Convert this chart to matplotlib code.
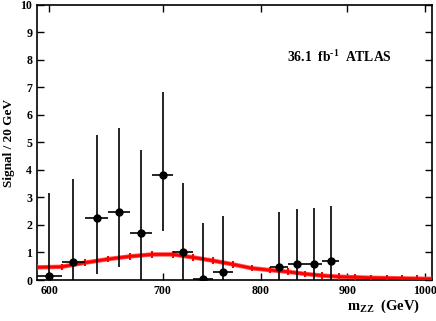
import matplotlib
matplotlib.use('Agg')
import matplotlib.pyplot as plt
import numpy as np

# black points: measured signal per 20 GeV bin
sig_mass = [600, 620, 640, 660, 680, 700, 720, 740, 760, 820, 840, 860, 880]
sig_val = [0.15, 0.65, 2.25, 2.48, 1.72, 3.82, 1.03, 0.02, 0.30, 0.46, 0.57, 0.60, 0.69]
sig_up = [3.17, 3.66, 5.27, 5.53, 4.73, 6.85, 3.54, 2.06, 2.33, 2.48, 2.59, 2.62, 2.69]
sig_lo = [0.0, 0.0, 0.22, 0.46, 0.0, 1.79, 0.0, 0.0, 0.0, 0.0, 0.0, 0.0, 0.0]
bin_half = 10

# red curve: expected signal shape
exp_mass = [590, 610, 630, 650, 670, 690, 710, 730, 750, 770, 790, 810, 830,
            850, 870, 890, 910, 930, 950, 970, 990, 1010]
exp_val = [0.46, 0.48, 0.63, 0.76, 0.86, 0.93, 0.93, 0.82, 0.70, 0.57, 0.43,
           0.36, 0.30, 0.22, 0.16, 0.12, 0.10, 0.08, 0.07, 0.06, 0.05, 0.04]
exp_err = 0.12

xticks = [600, 700, 800, 900, 1000]
yticks = list(range(0, 11))

plt.rcParams['font.family'] = ['Liberation Serif', 'DejaVu Serif']
plt.rcParams['font.weight'] = 'bold'
plt.rcParams['mathtext.fontset'] = 'custom'
plt.rcParams['mathtext.rm'] = 'Liberation Serif:bold'
plt.rcParams['mathtext.it'] = 'Liberation Serif:bold'
plt.rcParams['mathtext.bf'] = 'Liberation Serif:bold'

fig = plt.figure(figsize=(4.36, 3.21), dpi=100)
ax = fig.add_axes([0.0849, 0.1277, 0.906, 0.857])

# expected curve (thick red with small error ticks)
ax.plot(exp_mass, exp_val, color='#ff5555', lw=3.2, solid_capstyle='butt', zorder=2)
ax.errorbar(exp_mass, exp_val, yerr=exp_err, color='red', lw=2.0,
            elinewidth=1.5, capsize=0, zorder=3)

# data points
sig_val = np.array(sig_val)
yerr = [sig_val - np.array(sig_lo), np.array(sig_up) - sig_val]
ax.errorbar(sig_mass, sig_val, xerr=bin_half, yerr=yerr, fmt='o', color='black',
            ms=5, elinewidth=1.2, capsize=0, zorder=4)

ax.set_xscale('log')
ax.set_xlim(590, 1010)
ax.set_ylim(0, 10)
ax.xaxis.set_major_locator(matplotlib.ticker.FixedLocator(xticks))
ax.xaxis.set_major_formatter(matplotlib.ticker.FixedFormatter([str(t) for t in xticks]))
ax.xaxis.set_minor_locator(matplotlib.ticker.NullLocator())
ax.set_yticks(yticks)

ax.tick_params(axis='both', which='major', direction='in', top=True, right=True,
               length=5, width=1, labelsize=8.6, pad=3.5)
for s in ax.spines.values():
    s.set_linewidth(1.2)

ax.set_ylabel('Signal / 20 GeV', fontsize=9.5, fontweight='bold', labelpad=4)
ax.text(0.97, -0.095, r'm$_{\mathrm{ZZ}}$  (GeV)', transform=ax.transAxes,
        ha='right', va='center', fontsize=10.5, fontweight='bold')
ax.text(0.633, 0.81, r'36.1  fb$^{\text{-1}}$  ATLAS', transform=ax.transAxes,
        ha='left', va='center', fontsize=9.8, fontweight='bold')

fig.savefig('out.png', dpi=100)
